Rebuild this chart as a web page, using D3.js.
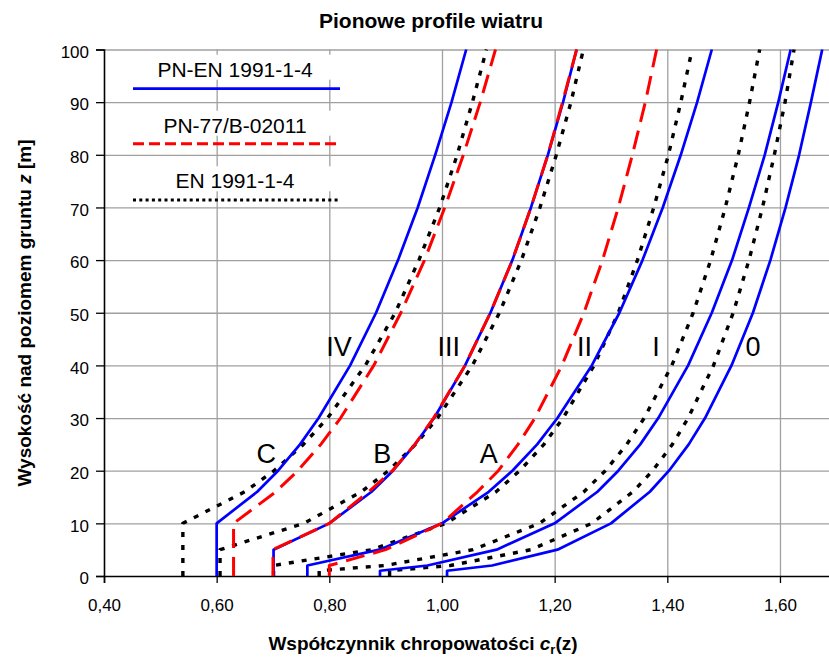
<!DOCTYPE html>
<html>
<head>
<meta charset="utf-8">
<script src="https://cdn.jsdelivr.net/npm/d3@7"></script>
<style>
body { margin: 0; background: #fff; }
text { font-family: Arial, "Liberation Sans", sans-serif; }
</style>
</head>
<body>
<svg width="829" height="664"></svg>
<script>
// heights z [m] at which every profile is given
var heights = [0, 1, 2, 5, 10, 16, 20, 25, 30, 40, 50, 60, 70, 80, 90, 100];

// PN-EN 1991-1-4 (blue), terrain categories 0..IV
var pnEn0   = [1.009, 1.009, 1.089, 1.205, 1.300, 1.369, 1.403, 1.438, 1.467, 1.514, 1.552, 1.583, 1.610, 1.634, 1.655, 1.675];
var pnEnI   = [0.890, 0.890, 0.974, 1.097, 1.200, 1.276, 1.313, 1.352, 1.384, 1.437, 1.479, 1.515, 1.545, 1.573, 1.597, 1.619];
var pnEnII  = [0.761, 0.761, 0.761, 0.889, 1.000, 1.083, 1.125, 1.169, 1.205, 1.266, 1.315, 1.356, 1.392, 1.424, 1.453, 1.479];
var pnEnIII = [0.701, 0.701, 0.701, 0.701, 0.800, 0.875, 0.913, 0.952, 0.986, 1.041, 1.086, 1.125, 1.158, 1.188, 1.215, 1.239];
var pnEnIV  = [0.600, 0.600, 0.600, 0.600, 0.600, 0.672, 0.709, 0.748, 0.781, 0.837, 0.883, 0.922, 0.957, 0.988, 1.017, 1.043];

// PN-77/B-02011 (red), terrain A, B, C
var pnA = [0.800, 0.800, 0.800, 0.900, 1.000, 1.063, 1.100, 1.135, 1.165, 1.213, 1.252, 1.285, 1.313, 1.338, 1.361, 1.381];
var pnB = [0.700, 0.700, 0.700, 0.700, 0.800, 0.870, 0.912, 0.952, 0.985, 1.041, 1.086, 1.125, 1.158, 1.188, 1.214, 1.239];
var pnC = [0.630, 0.630, 0.630, 0.630, 0.630, 0.705, 0.744, 0.785, 0.820, 0.879, 0.927, 0.969, 1.005, 1.038, 1.068, 1.095];

// EN 1991-1-4 (black dotted), terrain categories 0..IV
var en0   = [0.907, 0.907, 1.015, 1.158, 1.266, 1.339, 1.374, 1.409, 1.437, 1.482, 1.517, 1.545, 1.569, 1.590, 1.609, 1.625];
var enI   = [0.782, 0.782, 0.899, 1.055, 1.173, 1.252, 1.290, 1.328, 1.359, 1.408, 1.446, 1.477, 1.503, 1.526, 1.546, 1.564];
var enII  = [0.701, 0.701, 0.701, 0.875, 1.007, 1.096, 1.138, 1.181, 1.215, 1.270, 1.313, 1.347, 1.376, 1.402, 1.424, 1.444];
var enIII = [0.606, 0.606, 0.606, 0.606, 0.755, 0.857, 0.905, 0.953, 0.992, 1.054, 1.102, 1.141, 1.174, 1.203, 1.229, 1.251];
var enIV  = [0.540, 0.540, 0.540, 0.540, 0.540, 0.650, 0.702, 0.754, 0.797, 0.864, 0.917, 0.959, 0.996, 1.027, 1.054, 1.079];

var xTicks = [0.4, 0.6, 0.8, 1.0, 1.2, 1.4, 1.6];
var yTicks = [0, 10, 20, 30, 40, 50, 60, 70, 80, 90, 100];

// curve labels: text, cr value, z value
var catLabels = [["IV", 0.817, 41.8], ["III", 1.012, 41.8], ["II", 1.253, 41.8], ["I", 1.380, 41.8], ["0", 1.552, 41.8],
                 ["C", 0.688, 21.4], ["B", 0.894, 21.4], ["A", 1.083, 21.4]];

var legendNames = ["PN-EN 1991-1-4", "PN-77/B-02011", "EN 1991-1-4"];

var svg = d3.select("svg"),
  width = +svg.attr("width"),
  height = +svg.attr("height");

var x = d3.scaleLinear().domain([0.4, 1.7]).range([104, 836.3]);
var y = d3.scaleLinear().domain([0, 100]).range([576, 49.5]);

var fmt = function(d) { return d.toFixed(2).replace(".", ","); };

// grid
svg.append("g")
  .attr("transform", "translate(0," + y(0) + ")")
  .call(d3.axisBottom(x).tickValues(xTicks.slice(1)).tickSize(-(y(0) - y(100))).tickFormat(""))
  .call(g => g.select(".domain").remove())
  .selectAll("line").attr("stroke", "#a0a0a0").attr("stroke-width", 1.3);

svg.append("g")
  .attr("transform", "translate(" + x(0.4) + ",0)")
  .call(d3.axisLeft(y).tickValues(yTicks.slice(1)).tickSize(-(x(1.7) - x(0.4))).tickFormat(""))
  .call(g => g.select(".domain").remove())
  .selectAll("line").attr("stroke", "#a0a0a0").attr("stroke-width", 1.3);

// axes
var xAxis = svg.append("g")
  .attr("transform", "translate(0," + y(0) + ")")
  .call(d3.axisBottom(x).tickValues(xTicks).tickSize(7).tickPadding(16).tickFormat(fmt));
var yAxis = svg.append("g")
  .attr("transform", "translate(" + x(0.4) + ",0)")
  .call(d3.axisLeft(y).tickValues(yTicks).tickSize(8).tickPadding(7));

[xAxis, yAxis].forEach(function(g) {
  g.select(".domain").attr("stroke", "#000").attr("stroke-width", 1.6);
  g.selectAll(".tick line").attr("stroke", "#000").attr("stroke-width", 1.3);
  g.selectAll(".tick text").attr("fill", "#000").style("font-size", "17px")
    .style("font-family", "Arial, 'Liberation Sans', sans-serif");
});
yAxis.selectAll(".tick text").attr("dy", "0.45em");

var line = d3.line()
  .x(function(d) { return x(d[0]); })
  .y(function(d) { return y(d[1]); });

function profile(vals) {
  return vals.map(function(v, i) { return [v, heights[i]]; });
}

var styles = {
  en:  { stroke: "#000", width: 3.4, dash: "5,8" },
  pnb: { stroke: "#ff0000", width: 3, dash: "19,9" },
  pne: { stroke: "#0000ff", width: 2.7, dash: null }
};

var series = [
  ["en", en0], ["en", enI], ["en", enII], ["en", enIII], ["en", enIV],
  ["pne", pnEn0], ["pne", pnEnI], ["pne", pnEnII], ["pne", pnEnIII], ["pne", pnEnIV],
  ["pnb", pnA], ["pnb", pnB], ["pnb", pnC]
];

svg.append("g").selectAll("path")
  .data(series)
  .enter().append("path")
  .attr("d", function(d) { return line(profile(d[1])); })
  .attr("fill", "none")
  .attr("stroke", function(d) { return styles[d[0]].stroke; })
  .attr("stroke-width", function(d) { return styles[d[0]].width; })
  .attr("stroke-dasharray", function(d) { return styles[d[0]].dash; })
  .attr("stroke-linejoin", "round");

// curve labels
svg.append("g").selectAll("text")
  .data(catLabels)
  .enter().append("text")
  .attr("x", function(d) { return x(d[1]); })
  .attr("y", function(d) { return y(d[2]); })
  .attr("text-anchor", "middle")
  .style("font-size", "27px")
  .text(function(d) { return d[0]; });

// legend (text boxes with white fill)
var legendRows = [
  { name: legendNames[0], ty: 76.7, ly: 88.7, stroke: "#0000ff", width: 2.7, dash: null },
  { name: legendNames[1], ty: 132.7, ly: 143.7, stroke: "#ff0000", width: 3, dash: "11,5" },
  { name: legendNames[2], ty: 188.3, ly: 200, stroke: "#000", width: 3, dash: "3,3.3" }
];
var leg = svg.append("g");
leg.selectAll("rect")
  .data(legendRows)
  .enter().append("rect")
  .attr("x", 118).attr("width", 228)
  .attr("y", function(d) { return d.ty - 22; })
  .attr("height", 25)
  .attr("fill", "#fff");
leg.selectAll("text")
  .data(legendRows)
  .enter().append("text")
  .attr("x", 235)
  .attr("y", function(d) { return d.ty; })
  .attr("text-anchor", "middle")
  .style("font-size", "21px")
  .text(function(d) { return d.name; });
leg.selectAll("line")
  .data(legendRows)
  .enter().append("line")
  .attr("x1", 133).attr("x2", 340)
  .attr("y1", function(d) { return d.ly; })
  .attr("y2", function(d) { return d.ly; })
  .attr("stroke", function(d) { return d.stroke; })
  .attr("stroke-width", function(d) { return d.width; })
  .attr("stroke-dasharray", function(d) { return d.dash; });

// titles
svg.append("text")
  .attr("x", 431).attr("y", 28)
  .attr("text-anchor", "middle")
  .style("font-size", "21px").style("font-weight", "bold")
  .text("Pionowe profile wiatru");

var xt = svg.append("text")
  .attr("x", 423).attr("y", 650)
  .attr("text-anchor", "middle")
  .style("font-size", "19px").style("font-weight", "bold");
xt.append("tspan").text("Współczynnik chropowatości ");
xt.append("tspan").style("font-style", "italic").text("c");
xt.append("tspan").attr("dy", 4).style("font-size", "13px").text("r");
xt.append("tspan").attr("dy", -4).text("(z)");

var yt = svg.append("text")
  .attr("transform", "translate(31," + 313 + ") rotate(-90)")
  .attr("text-anchor", "middle")
  .style("font-size", "19px").style("font-weight", "bold");
yt.append("tspan").text("Wysokość nad poziomem gruntu  ");
yt.append("tspan").style("font-style", "italic").text("z");
yt.append("tspan").text("  [m]");
</script>
</body>
</html>
